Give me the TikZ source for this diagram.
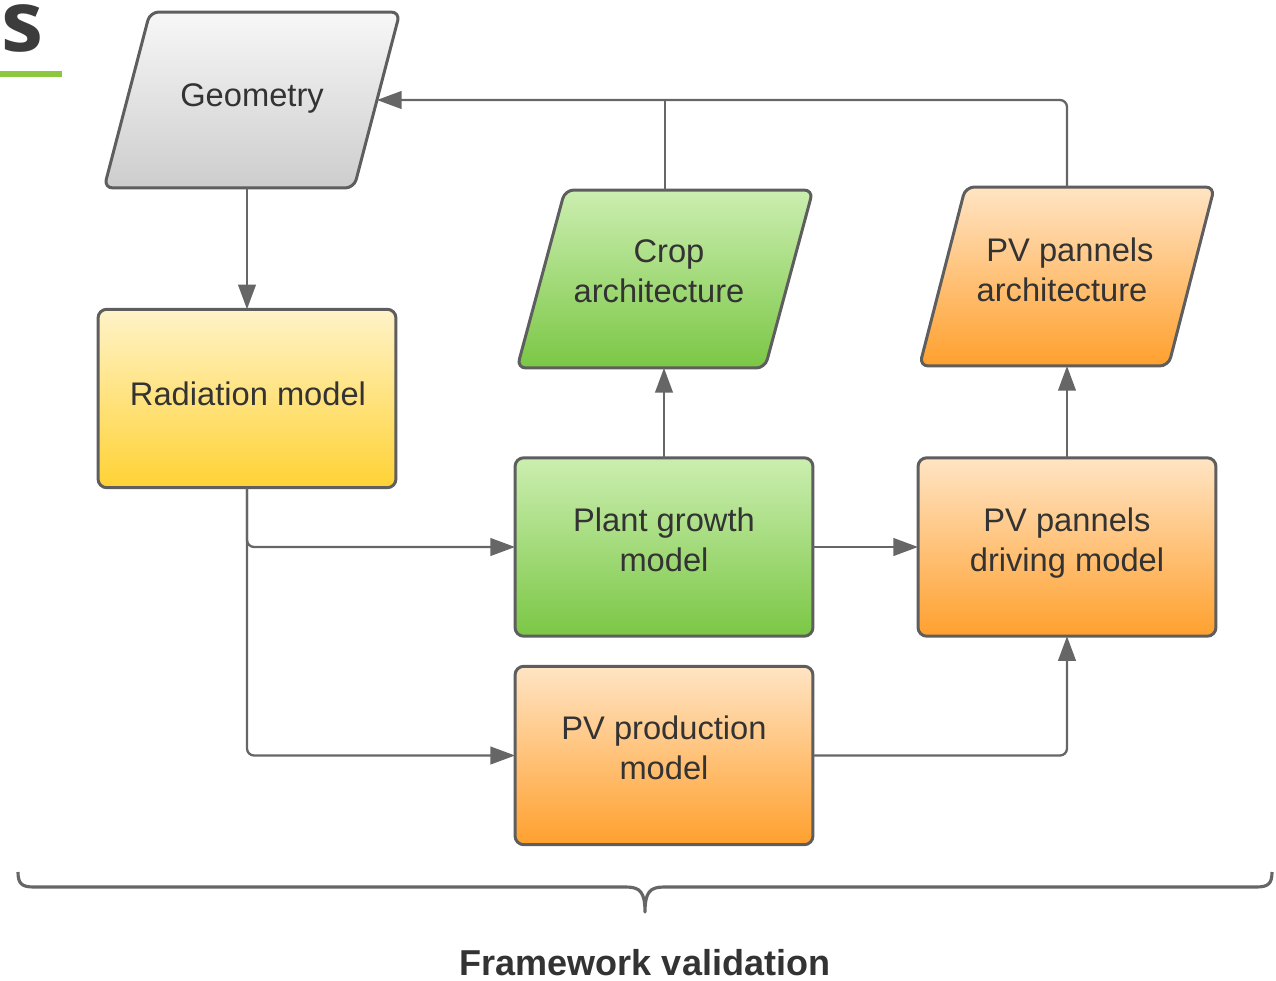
\documentclass[tikz,border=0pt]{standalone}
\usepackage{fontspec}
\setmainfont{Liberation Sans}
\newfontfamily\headfont{Open Sans}
\usetikzlibrary{arrows.meta,calc,backgrounds}

\definecolor{edgegray}{HTML}{5E5E5E}
\definecolor{wiregray}{HTML}{666666}
\definecolor{ink}{HTML}{333333}
\definecolor{headink}{HTML}{3C3C3C}
\definecolor{accent}{HTML}{8DC63F}
\definecolor{greytop}{HTML}{F7F7F7}
\definecolor{greybot}{HTML}{CDCDCD}
\definecolor{yeltop}{HTML}{FFF3C8}
\definecolor{yelbot}{HTML}{FFD234}
\definecolor{grntop}{HTML}{CBEEB0}
\definecolor{grnbot}{HTML}{7BC745}
\definecolor{orgtop}{HTML}{FFE4C4}
\definecolor{orgbot}{HTML}{FFA02E}

\tikzset{
  label text/.style={text=ink, align=center, anchor=base, inner sep=0pt,
                     font=\fontsize{18.6}{22.5}\selectfont},
  box/.style={draw=edgegray, line width=1.7pt, rounded corners=5pt,
              minimum width=5.96cm, minimum height=3.57cm, inner sep=0pt, outer sep=0pt},
  holder/.style={inner sep=0pt, outer sep=0pt},
  para/.style={draw=edgegray, line width=1.7pt, rounded corners=5pt},
  greyfill/.style={top color=greytop, bottom color=greybot},
  yelfill/.style={top color=yeltop, bottom color=yelbot},
  grnfill/.style={top color=grntop, bottom color=grnbot},
  orgfill/.style={top color=orgtop, bottom color=orgbot},
  wire/.style={draw=wiregray, line width=1.3pt, rounded corners=4pt},
  arrow/.style={wire, -{Triangle[length=14pt,width=10pt]}},
}

\begin{document}
\begin{tikzpicture}[x=0.02cm, y=-0.02cm]
\useasboundingbox (0,0) rectangle (1276,981);

% heading fragment and rule
\node[anchor=base west, inner sep=0pt, text=headink,
      font=\headfont\bfseries\fontsize{48}{48}\selectfont] (head) at (1,51) {s};
\fill[accent] (0,71) rectangle (62,77);

% parallelogram frames (outline drawn from the holder's corners)
\node[holder, minimum width=5.0cm,  minimum height=3.52cm] (geo)  at (252,100)    {};
\node[holder, minimum width=4.96cm, minimum height=3.56cm] (crop) at (665,279)    {};
\node[holder, minimum width=4.98cm, minimum height=3.58cm] (pva)  at (1067,276.5) {};

\path[para, greyfill]
  ($(geo.north west)+(23,0)$) -- ($(geo.north east)+(23,0)$) --
  ($(geo.south east)+(-23,0)$) -- ($(geo.south west)+(-23,0)$) -- cycle;
\path[para, grnfill]
  ($(crop.north west)+(24,0)$) -- ($(crop.north east)+(24,0)$) --
  ($(crop.south east)+(-24,0)$) -- ($(crop.south west)+(-24,0)$) -- cycle;
\path[para, orgfill]
  ($(pva.north west)+(23,0)$) -- ($(pva.north east)+(23,0)$) --
  ($(pva.south east)+(-23,0)$) -- ($(pva.south west)+(-23,0)$) -- cycle;

% process boxes
\node[box, yelfill] (rad) at (247,398.5) {};
\node[box, grnfill] (pg)  at (664,547)   {};
\node[box, orgfill] (pvd) at (1067,547)  {};
\node[box, orgfill] (pvp) at (664,755.5) {};

% box texts, placed on their last baseline
\node[label text] (geo-t)  at (252,106)    {Geometry};
\node[label text] (crop-t) at (664,302.5)  {\hspace*{0.2cm}Crop\\architecture\hspace*{0.2cm}};
\node[label text] (pva-t)  at (1066,301.5) {\hspace*{0.16cm}PV pannels\\architecture\hspace*{0.16cm}};
\node[label text] (rad-t)  at (248,405)    {Radiation model};
\node[label text] (pg-t)   at (664,571.5)  {Plant growth\\model};
\node[label text] (pvd-t)  at (1067,571.5) {PV pannels\\driving model};
\node[label text] (pvp-t)  at (664,779.5)  {PV production\\model};

% connectors
\coordinate (feedback) at (0,100);
\draw[arrow] (geo.south -| rad.north) -- (rad.north);
\draw[arrow] (rad.south) |- (pg.west);
\draw[arrow] (rad.south) |- (pvp.west);
\draw[arrow] (pg.north) -- (crop.south -| pg.north);
\draw[arrow] (pvd.north) -- (pva.south -| pvd.north);
\draw[arrow] (pg.east) -- (pvd.west);
\draw[arrow] (pvp.east) -| (pvd.south);
\draw[arrow] (pva.north) |- (geo.east);
\draw[wire]  (crop.north) -- (crop.north |- feedback);

% brace and caption
\draw[draw=wiregray, line width=1.8pt, line join=round]
  (18,872) .. controls (18,884) and (22,887) .. (34,887) -- (626,887)
  .. controls (640,887) and (645,892) .. (645,912)
  .. controls (645,892) and (650,887) .. (664,887) -- (1256,887)
  .. controls (1268,887) and (1272,884) .. (1272,872);
\node[text=ink, font=\bfseries\fontsize{20.5}{24}\selectfont] (cap) at (645,963) {Framework validation};
\end{tikzpicture}
\end{document}
